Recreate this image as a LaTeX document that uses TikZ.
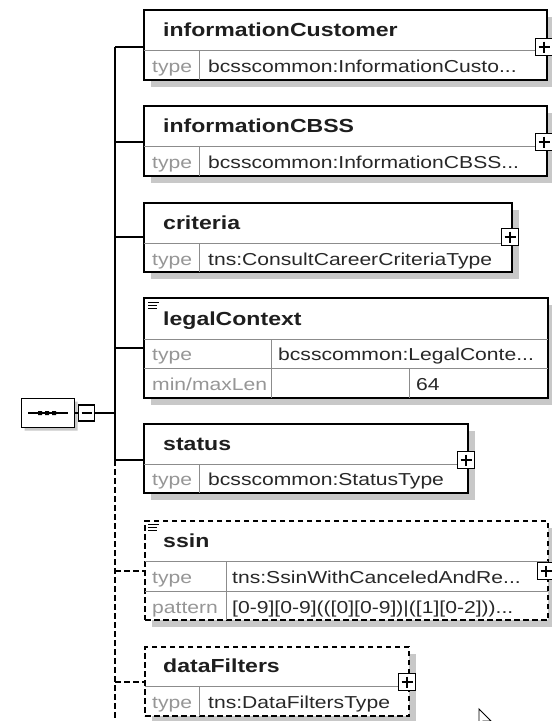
\documentclass[tikz,border=0pt]{standalone}
\usepackage{fontspec}
\usetikzlibrary{shapes.misc}
\newfontfamily\xf[FakeStretch=1.22]{Liberation Sans}
\definecolor{shadowgray}{RGB}{200,200,200}
\definecolor{divgray}{RGB}{140,140,140}
\definecolor{lblgray}{RGB}{150,150,150}
\definecolor{valcol}{RGB}{40,40,40}
\definecolor{namecol}{RGB}{30,30,30}
\tikzset{
  elbox/.style={draw=black, line width=1.4pt, fill=white, anchor=north west, inner sep=0pt, outer sep=0pt},
  optbox/.style={elbox, dash pattern=on 5.5pt off 3.5pt},
  shadowc/.style={fill=shadowgray, draw=none},
  divider/.style={draw=divgray, line width=1pt},
  nm/.style={anchor=base west, inner sep=0pt, font=\xf\bfseries\fontsize{18.9}{20}\selectfont, text=namecol},
  lbl/.style={anchor=base west, inner sep=0pt, font=\xf\fontsize{17.3}{20}\selectfont, text=lblgray},
  val/.style={anchor=base west, inner sep=0pt, font=\xf\fontsize{17.3}{20}\selectfont, text=valcol},
  conn/.style={draw=black, line width=1.4pt},
  optconn/.style={conn, dash pattern=on 5.5pt off 3.5pt},
  plusbox/.style={draw=black, fill=white, line width=1.2pt, minimum size=17pt, inner sep=0pt, outer sep=0pt,
    path picture={\draw[line width=1.1pt] ([xshift=3pt]path picture bounding box.west) -- ([xshift=-3pt]path picture bounding box.east)
      ([yshift=-3pt]path picture bounding box.north) -- ([yshift=3pt]path picture bounding box.south);}},
  minusbox/.style={draw=black, fill=white, line width=1.2pt, minimum size=16pt, inner sep=0pt, outer sep=0pt,
    path picture={\draw[line width=1.1pt] ([xshift=3pt]path picture bounding box.west) -- ([xshift=-3pt]path picture bounding box.east);}},
  anno/.style={draw=black, line width=1pt},
}
\begin{document}
\begin{tikzpicture}[x=1pt,y=-1pt]
\useasboundingbox (0,0) rectangle (552,721);
\clip (0,0) rectangle (552,721);
\fill[white] (0,0) rectangle (552,721);

% ---- compositor (sequence)
\node[chamfered rectangle, chamfered rectangle xsep=7pt, fill=shadowgray, draw=none, minimum width=53pt, minimum height=29pt, inner sep=0pt] at (51,416) {};
\node[chamfered rectangle, chamfered rectangle xsep=7pt, draw=black, line width=1pt, fill=white, minimum width=53pt, minimum height=29pt, inner sep=0pt] (seq) at (48,413) {};
\draw[line width=1.4pt] (28,413) -- (68,413);
\fill[black] (38,411) rectangle (42,415) (45,411) rectangle (49,415) (52,411) rectangle (56,415);
\node[minusbox] (seqm) at (86.5,413) {};
\draw[conn] (seq.east) -- (seqm.west);

% ---- bus junctions
\coordinate (j1) at (115,47);
\coordinate (j2) at (115,142);
\coordinate (j3) at (115,237);
\coordinate (j4) at (115,348);
\coordinate (j0) at (115,413);
\coordinate (j5) at (115,460);
\coordinate (j6) at (115,571);
\coordinate (j7) at (115,682);
\coordinate (jend) at (115,725);
\draw[conn] (j1) -- (j5);
\draw[optconn] (j5) -- (jend);
\draw[conn] (seqm.east) -- (j0);

% ---- informationCustomer
\fill[shadowc] (151,17) rectangle (554,87);
\node[elbox, minimum width=403pt, minimum height=70pt] (b1) at (144,10) {};
\draw[divider] (144,50) -- (547,50);
\draw[divider] (199,50) -- (199,80);
\node[nm] (b1n) at (163,36) {informationCustomer};
\node[lbl] (b1l) at (152,72) {type};
\node[val] (b1v) at (208,72) {bcsscommon:InformationCusto...};
\node[plusbox] (b1p) at (544,47) {};
\draw[conn] (j1) -- (j1 -| b1.west);

% ---- informationCBSS
\fill[shadowc] (151,113) rectangle (554,183);
\node[elbox, minimum width=403pt, minimum height=70pt] (b2) at (144,106) {};
\draw[divider] (144,146) -- (547,146);
\draw[divider] (199,146) -- (199,176);
\node[nm] (b2n) at (163,132) {informationCBSS};
\node[lbl] (b2l) at (152,168) {type};
\node[val] (b2v) at (208,168) {bcsscommon:InformationCBSS...};
\node[plusbox] (b2p) at (544,142) {};
\draw[conn] (j2) -- (j2 -| b2.west);

% ---- criteria
\fill[shadowc] (151,210) rectangle (519,279);
\node[elbox, minimum width=368pt, minimum height=69pt] (b3) at (144,203) {};
\draw[divider] (144,243) -- (512,243);
\draw[divider] (199,243) -- (199,272);
\node[nm] (b3n) at (163,229) {criteria};
\node[lbl] (b3l) at (152,265) {type};
\node[val] (b3v) at (208,265) {tns:ConsultCareerCriteriaType};
\node[plusbox] (b3p) at (510,237) {};
\draw[conn] (j3) -- (j3 -| b3.west);

% ---- legalContext
\fill[shadowc] (151,305) rectangle (555,405);
\node[elbox, minimum width=404pt, minimum height=100pt] (b4) at (144,298) {};
\draw[divider] (144,339) -- (548,339);
\draw[divider] (144,368) -- (548,368);
\draw[divider] (271,339) -- (271,398);
\draw[divider] (409,368) -- (409,398);
\draw[anno] (148,302.5) -- (159,302.5) (148,305.5) -- (157,305.5) (148,308.5) -- (157,308.5);
\node[nm] (b4n) at (163,325) {legalContext};
\node[lbl] (b4l1) at (152,360) {type};
\node[val] (b4v1) at (278,360) {bcsscommon:LegalConte...};
\node[lbl] (b4l2) at (152,390) {min/maxLen};
\node[val] (b4v2) at (416,390) {64};
\draw[conn] (j4) -- (j4 -| b4.west);

% ---- status
\fill[shadowc] (151,431) rectangle (475,500);
\node[elbox, minimum width=324pt, minimum height=69pt] (b5) at (144,424) {};
\draw[divider] (144,464) -- (468,464);
\draw[divider] (199,464) -- (199,493);
\node[nm] (b5n) at (163,450) {status};
\node[lbl] (b5l) at (152,485) {type};
\node[val] (b5v) at (208,485) {bcsscommon:StatusType};
\node[plusbox] (b5p) at (466,460) {};
\draw[conn] (j5) -- (j5 -| b5.west);

% ---- ssin (optional)
\fill[shadowc] (152,528) rectangle (555,627);
\node[optbox, minimum width=403pt, minimum height=99pt] (b6) at (145,521) {};
\draw[divider] (145,561) -- (548,561);
\draw[divider] (145,591) -- (548,591);
\draw[divider] (226,561) -- (226,620);
\draw[anno] (148,524.5) -- (159,524.5) (148,527.5) -- (157,527.5) (148,530.5) -- (157,530.5);
\node[nm] (b6n) at (163,547) {ssin};
\node[lbl] (b6l1) at (152,583) {type};
\node[val] (b6v1) at (232,583) {tns:SsinWithCanceledAndRe...};
\node[lbl] (b6l2) at (152,613) {pattern};
\node[val] (b6v2) at (232,613) {[0-9][0-9](([0][0-9])|([1][0-2]))...};
\node[plusbox] (b6p) at (546,571) {};
\draw[optconn] (j6) -- (j6 -| b6.west);

% ---- dataFilters (optional)
\fill[shadowc] (152,654) rectangle (416,723);
\node[optbox, minimum width=264pt, minimum height=69pt] (b7) at (145,647) {};
\draw[divider] (145,686) -- (409,686);
\draw[divider] (199,686) -- (199,716);
\node[nm] (b7n) at (163,672) {dataFilters};
\node[lbl] (b7l) at (152,708) {type};
\node[val] (b7v) at (208,708) {tns:DataFiltersType};
\node[plusbox] (b7p) at (407,682) {};
\draw[optconn] (j7) -- (j7 -| b7.west);

% ---- mouse pointer
\draw[fill=white, line width=0.9pt] (479,709) -- (479,725) -- (483,721) -- (491,721) -- cycle;
\end{tikzpicture}
\end{document}
